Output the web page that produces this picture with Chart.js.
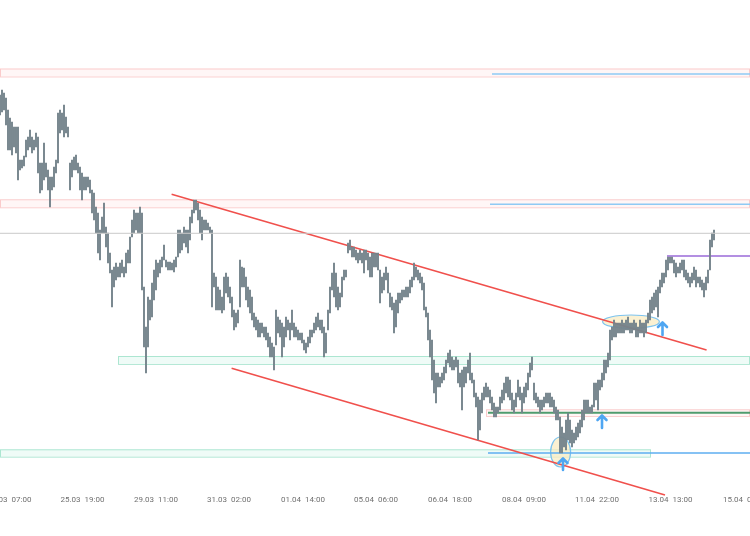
<!DOCTYPE html>
<html>
<head>
<meta charset="utf-8">
<script src="https://cdn.jsdelivr.net/npm/chart.js@4.4.1/dist/chart.umd.min.js"></script>
<style>
  html, body { margin: 0; padding: 0; background: #fff; }
</style>
</head>
<body>
<canvas id="priceChart" width="750" height="536"></canvas>
<script>
// hourly bars, one per index; price in chart units
var highs = [
  405,410,407,402,390,382,378,373,373,373, 340,340,344,360,363,370,363,360,367,363,
  337,337,357,337,330,323,323,333,340,387, 390,387,395,383,373,337,340,343,345,337,
  333,327,323,323,323,320,310,307,293,287, 270,283,297,273,267,247,230,233,237,233,
  237,240,233,247,250,263,280,290,287,287, 293,287,213,173,203,200,217,230,240,237,
  240,243,255,240,238,238,237,240,243,270, 270,267,273,270,270,283,290,300,300,297,
  290,283,280,280,277,273,270,227,223,213, 210,203,223,227,223,213,203,190,187,190,
  240,233,232,223,213,210,203,187,183,180, 177,177,173,173,167,163,157,153,190,183,
  180,177,173,183,180,177,190,177,173,170, 167,167,160,157,163,170,170,177,183,187,
  180,180,173,167,190,213,227,237,227,213, 207,223,230,230,257,260,253,253,250,247,
  250,247,250,250,247,243,247,247,247,247, 230,223,227,233,227,207,203,197,200,207,
  207,210,210,213,213,220,223,237,233,230, 227,223,217,193,187,170,160,140,127,127,
  123,127,133,140,147,150,143,140,143,140, 127,130,133,133,140,147,127,120,107,103,
  100,107,113,117,113,110,103,97,93,93,     103,110,117,123,123,120,107,100,107,120,
  113,107,113,117,127,137,143,117,107,103, 100,100,103,107,107,107,103,100,93,90,
  83,73,67,80,87,80,70,67,73,77,           80,90,100,100,100,93,95,117,117,120,
  120,127,140,140,147,170,173,180,177,177, 177,180,177,180,183,177,177,180,177,173,
  180,177,177,180,187,200,203,207,210,213, 220,227,227,240,243,243,243,240,237,233,
  237,240,240,230,227,223,227,233,230,223, 223,220,217,223,230,260,267,270
];
var lows = [
  385,388,390,375,350,350,345,353,347,320, 330,332,334,343,350,353,347,350,353,327,
  307,310,320,323,310,293,310,313,327,337, 367,370,363,367,363,310,323,330,330,327,
  310,300,310,310,313,307,287,280,267,247, 240,267,267,253,237,227,193,213,220,223,
  223,227,223,227,237,237,263,267,270,267, 267,210,153,127,153,180,183,200,210,223,
  227,233,240,233,230,230,230,228,233,243, 247,250,257,253,247,260,277,287,290,280,
  267,260,270,270,270,267,193,213,190,190, 190,187,190,207,203,197,183,170,173,177,
  193,213,213,200,193,187,180,173,170,163, 163,167,163,160,153,143,143,130,155,167,
  163,143,153,163,170,160,170,163,163,160, 160,157,150,147,153,157,163,167,170,173,
  170,167,143,147,170,187,210,203,193,190, 193,203,220,223,247,250,243,243,240,237,
  240,237,227,240,230,223,223,233,233,230, 197,207,210,220,207,193,190,167,173,187,
  197,200,203,203,203,207,213,220,223,220, 217,210,190,183,160,143,120,107,97,113,
  113,117,120,127,137,133,130,130,133,117, 113,90,113,117,127,120,117,103,93,60,
  70,87,100,103,103,97,90,83,83,87,        90,97,100,107,103,100,90,87,93,103,
  100,87,97,103,110,123,130,100,97,93,     87,90,93,97,97,93,93,87,80,80,
  47,47,53,50,60,57,53,57,60,63,           67,73,80,87,87,87,87,93,100,90,
  110,113,120,127,133,140,160,163,163,167, 167,167,167,170,170,167,167,170,163,163,
  167,167,163,167,177,180,187,190,193,183, 207,213,217,223,230,237,237,227,223,227,
  227,230,223,220,217,213,217,220,213,217, 213,210,203,210,217,230,253,260
];

var tickPos    = [4.75, 41.25, 78, 114.5, 151.5, 188, 225, 262, 298.5, 335.25, 372.5];
var tickLabels = ['24.03  07:00','25.03  19:00','29.03  11:00','31.03  02:00','01.04  14:00',
                  '05.04  06:00','06.04  18:00','08.04  09:00','11.04  22:00','13.04  13:00','15.04  02:00'];

// drawings: [fromIdx, toIdx, bottom, top]
var pinkZones = [[0, 375, 423.5, 431.5], [0, 375, 292.7, 300.7], [243, 375, 84, 90.7]];
var tealZones = [[59, 375, 136, 144], [0, 325.5, 43.3, 50.7]];
var upperTrend = [[85.8, 305.7], [353.3, 150]];
var lowerTrend = [[115.8, 131.7], [332.5, 5]];
// [level, fromIdx]
var grayLevel   = [266.7, 0];
var purpleLevel = [244, 333.5];
var blueLevels  = [[426, 246], [295.7, 245]];
var blueLow     = [47, 244];
var greenLevel  = [87.3, 244];
// [centerIdx, centerPrice, radiusIdx, radiusPrice]
var ellipses = [[315.5, 178.3, 14.2, 6.7], [280.3, 48, 5, 15]];
// [idx, tipPrice, basePrice]
var arrows = [[331.25, 178, 165], [301, 85, 72], [281.5, 42, 30]];

var END = 375;

function seg(from, to, level) {
    return [{x: from, y: level}, {x: to, y: level}];
}
function lineSet(data, color, width) {
    return { type: 'line', data: data, borderColor: color, borderWidth: width,
             pointRadius: 0, fill: false, clip: false, tension: 0 };
}

var overlay = {
    id: 'overlay',
    beforeDatasetsDraw: function (chart) {
        var ctx = chart.ctx, xs = chart.scales.x, ys = chart.scales.y;
        ctx.save();
        function box(z, fill, stroke) {
            var x0 = xs.getPixelForValue(z[0]), x1 = xs.getPixelForValue(z[1]);
            var y0 = ys.getPixelForValue(z[3]), y1 = ys.getPixelForValue(z[2]);
            ctx.fillStyle = fill;
            ctx.fillRect(x0, y0, x1 - x0, y1 - y0);
            ctx.strokeStyle = stroke; ctx.lineWidth = 1;
            ctx.strokeRect(x0 + 0.5, y0 + 0.5, x1 - x0 - 1, y1 - y0);
        }
        pinkZones.forEach(function (z) { box(z, 'rgba(255,205,205,0.18)', 'rgba(245,150,150,0.45)'); });
        tealZones.forEach(function (z) { box(z, 'rgba(190,240,222,0.25)', 'rgba(90,205,165,0.45)'); });
        ellipses.forEach(function (e) {
            var cx = xs.getPixelForValue(e[0]), cy = ys.getPixelForValue(e[1]);
            var rx = xs.getPixelForValue(e[0] + e[2]) - cx;
            var ry = cy - ys.getPixelForValue(e[1] + e[3]);
            ctx.beginPath();
            ctx.ellipse(cx, cy, rx, ry, 0, 0, Math.PI * 2);
            ctx.fillStyle = 'rgba(250,236,195,0.75)';
            ctx.fill();
            ctx.strokeStyle = '#7cc3ef'; ctx.lineWidth = 1.2;
            ctx.stroke();
        });
        ctx.restore();
    },
    afterDatasetsDraw: function (chart) {
        var ctx = chart.ctx, xs = chart.scales.x, ys = chart.scales.y;
        ctx.save();
        ctx.strokeStyle = '#4fa6f2'; ctx.lineWidth = 2.6; ctx.lineCap = 'round'; ctx.lineJoin = 'round';
        arrows.forEach(function (a) {
            var x = xs.getPixelForValue(a[0]), yt = ys.getPixelForValue(a[1]), yb = ys.getPixelForValue(a[2]);
            ctx.beginPath();
            ctx.moveTo(x - 4.5, yt + 5); ctx.lineTo(x, yt + 0.5); ctx.lineTo(x + 4.5, yt + 5);
            ctx.moveTo(x, yt + 1); ctx.lineTo(x, yb);
            ctx.stroke();
        });
        ctx.restore();
    },
    afterDraw: function (chart) {
        var ctx = chart.ctx, xs = chart.scales.x;
        ctx.save();
        ctx.font = '8px Roboto';
        ctx.fillStyle = '#707070';
        ctx.textAlign = 'center';
        ctx.textBaseline = 'middle';
        tickPos.forEach(function (p, i) {
            ctx.fillText(tickLabels[i], xs.getPixelForValue(p), 500);
        });
        ctx.restore();
    }
};

var bars = highs.map(function (h, i) { return {x: i, y: [lows[i], h]}; });

new Chart(document.getElementById('priceChart'), {
    type: 'bar',
    data: {
        datasets: [
            lineSet(seg(0, END, grayLevel[0]), '#c9c9c9', 1),
            { type: 'bar', data: bars, backgroundColor: '#75848c', barThickness: 1.25, grouped: false },
            lineSet(upperTrend.map(function (p) { return {x: p[0], y: p[1]}; }), '#f0504c', 1.6),
            lineSet(lowerTrend.map(function (p) { return {x: p[0], y: p[1]}; }), '#f0504c', 1.6),
            lineSet(seg(blueLevels[0][1], END, blueLevels[0][0]), '#8fcaf4', 1.6),
            lineSet(seg(blueLevels[1][1], END, blueLevels[1][0]), '#8fcaf4', 1.6),
            lineSet(seg(blueLow[1], END, blueLow[0]), '#5eaef0', 1.6),
            lineSet(seg(greenLevel[1], END, greenLevel[0]), '#4f9c6e', 2),
            lineSet(seg(purpleLevel[1], END, purpleLevel[0]), '#9a6ad8', 1.6)
        ]
    },
    options: {
        responsive: false, animation: false, devicePixelRatio: 1,
        layout: { padding: { left: 0, right: 0, top: 0, bottom: 56 } },
        plugins: { legend: { display: false }, tooltip: { enabled: false } },
        scales: {
            x: { type: 'linear', min: 0, max: END, display: false, offset: false },
            y: { min: 20, max: 500, display: false }
        }
    },
    plugins: [overlay]
});
</script>
</body>
</html>
